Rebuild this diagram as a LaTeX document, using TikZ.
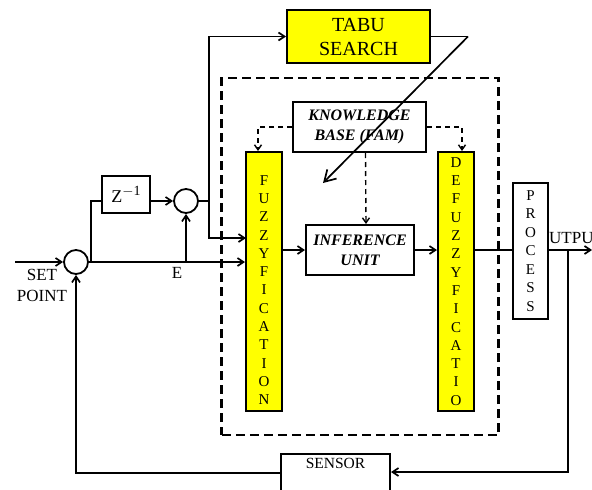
\documentclass[tikz,border=0pt]{standalone}
\usepackage{fontspec}
\setmainfont{Liberation Serif}
\usetikzlibrary{arrows.meta, positioning}
\definecolor{TabuYellow}{RGB}{255, 255, 0}

\begin{document}
\begin{tikzpicture}[
    x=1pt, y=-1pt,
    blk/.style={draw, line width=2pt, rectangle, align=center, inner sep=2pt, font=\fontsize{16}{20}\selectfont},
    ybar/.style={blk, fill=TabuYellow, minimum width=36pt, minimum height=259pt},
    bitext/.style={font=\bfseries\itshape\fontsize{16}{20}\selectfont},
    sumpt/.style={draw, circle, line width=1.8pt, minimum size=24pt, inner sep=0pt},
    arrow/.style={-{Straight Barb[length=6pt, width=8pt]}, line width=1.7pt},
    plain/.style={line width=1.7pt},
    kbline/.style={-{Straight Barb[length=5pt, width=7pt]}, line width=1.4pt, dash pattern=on 5pt off 4pt},
    lbl/.style={font=\fontsize{17}{21}\selectfont, align=center, inner sep=0pt}
]
\useasboundingbox (0,0) rectangle (592,490);

\node (flc) [draw, line width=2.6pt, dash pattern=on 9pt off 5pt, minimum width=277pt, minimum height=357pt] at (360.25,256.5) {};

\node (tabu) [blk, fill=TabuYellow, minimum width=143pt, minimum height=53pt, font=\fontsize{20}{24}\selectfont] at (358.5,36.5) {TABU\\SEARCH};
\node (kb) [blk, bitext, minimum width=133pt, minimum height=50pt] at (359.5,127) {KNOWLEDGE\\BASE (FAM)};
\node (inf) [blk, bitext, minimum width=108pt, minimum height=50pt] at (360,250) {INFERENCE\\UNIT};
\node (fuzzy) [ybar] at (264,281.5) {};
\node (fuzzytxt) [lbl, font=\fontsize{15}{18.3}\selectfont] at (264,290) {F\\U\\Z\\Z\\Y\\F\\I\\C\\A\\T\\I\\O\\N};
\node (defuzzy) [ybar, font=\fontsize{15}{18.3}\selectfont] at (456,281.5) {D\\E\\F\\U\\Z\\Z\\Y\\F\\I\\C\\A\\T\\I\\O};
\node (proc) [blk, minimum width=35pt, minimum height=136pt, font=\fontsize{15}{18.5}\selectfont] at (530.5,251) {P\\R\\O\\C\\E\\S\\S};
\node (zbox) [blk, minimum width=48pt, minimum height=37pt, font=\fontsize{18}{20}\selectfont] at (126,194.5) {Z\raisebox{7pt}{\fontsize{14}{14}\selectfont$-$1}};
\node (sum1) [sumpt] at (76,262) {};
\node (sum2) [sumpt] at (186,201) {};
\node (sensor) [blk, minimum width=109pt, text height=11pt, text depth=24pt, inner sep=4pt, font=\fontsize{15.5}{18}\selectfont] at (335.5,475) {SENSOR};

\node (setlbl) [lbl] at (42,285) {SET\\POINT};
\node (elbl) [lbl] at (177,273) {E};
\node (outlbl) [lbl, anchor=west] at (549,238) {UTPUT};

\coordinate (setin) at (15,262);
\coordinate (br1) at (91,262);
\coordinate (eup) at (186,262);
\coordinate (br2) at (209,201);
\coordinate (fz2) at (246,238);
\coordinate (tk) at (468,36.5);
\coordinate (tip) at (323,183);
\coordinate (outend) at (592,250);
\coordinate (fb) at (568,250);

\draw [arrow] (setin) -- (sum1);
\draw [arrow] (sum1) -- (sum1 -| fuzzy.west);
\draw [plain] (br1) |- ([yshift=-6.5pt]zbox.west);
\draw [arrow] ([yshift=-6.5pt]zbox.east) -- (sum2);
\draw [arrow] (eup) -- (sum2);
\draw [plain] (sum2) -- (br2);
\draw [arrow] (br2) |- (tabu);
\draw [arrow] (br2) |- (fz2);
\draw [plain] (tabu.east) -- (tk);
\draw [-{Straight Barb[length=11pt, width=13pt]}, line width=1.7pt] (tk) -- (tip);

% knowledge base links
\draw [kbline] (kb.west) -| ([xshift=-6pt]fuzzy.north);
\draw [kbline] (kb.east) -| ([xshift=6pt]defuzzy.north);
\draw [kbline] ([xshift=6pt]kb.south) -- ([xshift=6pt]inf.north);

\draw [arrow] (fuzzy.east |- inf) -- (inf);
\draw [arrow] (inf) -- (inf -| defuzzy.west);
\draw [plain] (defuzzy.east |- outend) -- (proc.west |- outend);
\draw [arrow] (proc.east |- outend) -- (outend);

% feedback
\draw [arrow] (fb) |- ([yshift=3pt]sensor.east);
\draw [arrow] ([yshift=2pt]sensor.west) -| (sum1);

\end{tikzpicture}
\end{document}
